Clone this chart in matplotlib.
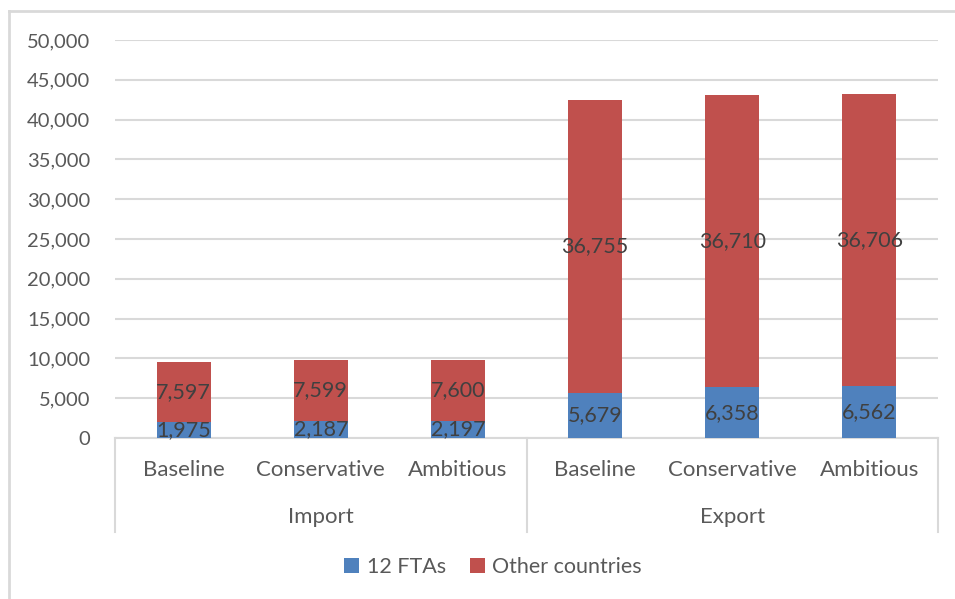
import matplotlib
matplotlib.use("Agg")
import matplotlib.pyplot as plt
from matplotlib.lines import Line2D
from matplotlib.ticker import FuncFormatter

plt.rcParams['font.family'] = ['Lato', 'DejaVu Sans']

groups = ["Import", "Export"]
scenarios = ["Baseline", "Conservative", "Ambitious"]
fta_values = [1975, 2187, 2197, 5679, 6358, 6562]
other_values = [7597, 7599, 7600, 36755, 36710, 36706]
series_names = ["12 FTAs", "Other countries"]
y_ticks = [0, 5000, 10000, 15000, 20000, 25000, 30000, 35000, 40000, 45000, 50000]

blue = "#4F81BD"
red = "#C0504D"
text_col = "#595959"
label_col = "#404040"
grid_col = "#D9D9D9"

W, H = 955, 599
fig = plt.figure(figsize=(W / 100, H / 100), dpi=100)

def fx(px):
    return px / W

def fy(py):
    return 1 - py / H

ax = fig.add_axes([fx(115), fy(438), fx(938) - fx(115), fy(40) - fy(438)])

n = len(fta_values)
xs = list(range(n))
bw = 54 / 137.2
b1 = ax.bar(xs, fta_values, width=bw, color=blue, label=series_names[0], zorder=3)
b2 = ax.bar(xs, other_values, width=bw, bottom=fta_values, color=red,
            label=series_names[1], zorder=3)

for x, f, o in zip(xs, fta_values, other_values):
    ax.text(x, f / 2, f"{f:,}", ha="center", va="center", fontsize=15.5,
            color=label_col, zorder=4)
    ax.text(x, f + o / 2, f"{o:,}", ha="center", va="center", fontsize=15.5,
            color=label_col, zorder=4)

ax.set_xlim(-0.5, n - 0.5)
ax.set_ylim(0, 50000)
ax.set_yticks(y_ticks)
ax.yaxis.set_major_formatter(FuncFormatter(lambda v, p: f"{int(v):,}"))
ax.tick_params(axis="y", length=0, labelsize=14.5, labelcolor=text_col, pad=18)
ax.set_xticks([])
ax.grid(axis="y", color=grid_col, linewidth=1.5, zorder=0)
for s in ["top", "right", "left"]:
    ax.spines[s].set_visible(False)
ax.spines["bottom"].set_color(grid_col)
ax.spines["bottom"].set_linewidth(1.5)

# two-level category axis
x0, x1 = fx(115), fx(938)
for i, x in enumerate(xs):
    fig.text(x0 + (x + 0.5) / n * (x1 - x0), fy(470),
             scenarios[i % 3], ha="center", va="center", fontsize=16, color=text_col)
for g, name in enumerate(groups):
    cx = x0 + (g + 0.5) / 2 * (x1 - x0)
    fig.text(cx, fy(517), name, ha="center", va="center", fontsize=16, color=text_col)
for px in [115, 527, 938]:
    fig.add_artist(Line2D([fx(px), fx(px)], [fy(438), fy(532)], color=grid_col, lw=1.5))

# outer chart frame
fig.add_artist(Line2D([fx(9), fx(9)], [fy(11), 0], color=grid_col, lw=2))
fig.add_artist(Line2D([fx(9), 1], [fy(11), fy(11)], color=grid_col, lw=2))

fig.legend(handles=[b1, b2], labels=series_names, loc="center",
           bbox_to_anchor=(fx(493), fy(567)), ncol=2, frameon=False,
           fontsize=15.5, handlelength=0.7, handleheight=0.7, handletextpad=0.35,
           columnspacing=1.1, labelcolor=text_col)

fig.savefig("out.png", dpi=100)
